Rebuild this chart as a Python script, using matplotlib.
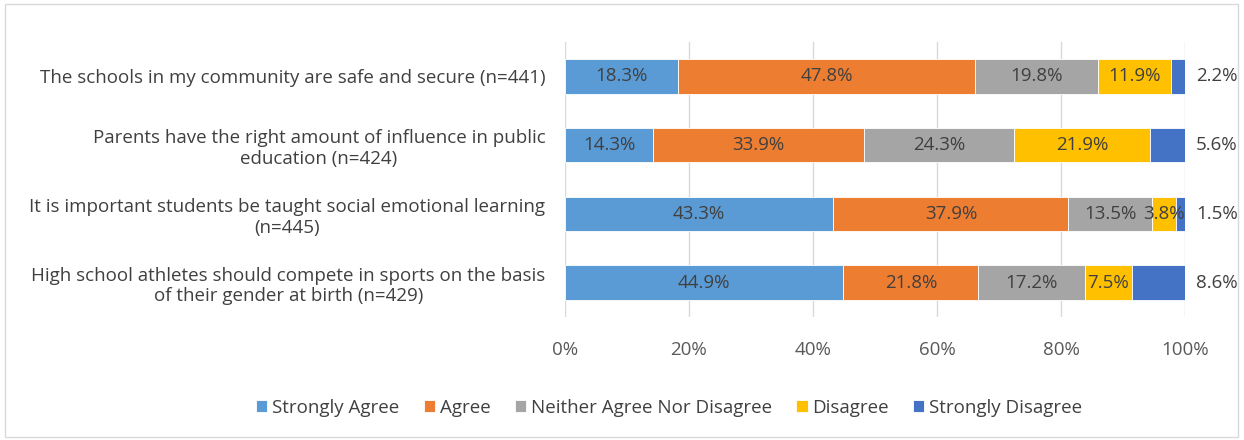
import numpy as np
import matplotlib.pyplot as plt
from matplotlib.patches import Rectangle

plt.rcParams['font.family'] = ['Open Sans', 'DejaVu Sans']

questions = [
    "The schools in my community are safe and secure (n=441)",
    "Parents have the right amount of influence in public\neducation (n=424)",
    "It is important students be taught social emotional learning\n(n=445)",
    "High school athletes should compete in sports on the basis\nof their gender at birth (n=429)",
]
series = ["Strongly Agree", "Agree", "Neither Agree Nor Disagree", "Disagree", "Strongly Disagree"]
strongly_agree = [18.3, 14.3, 43.3, 44.9]
agree = [47.8, 33.9, 37.9, 21.8]
neither = [19.8, 24.3, 13.5, 17.2]
disagree = [11.9, 21.9, 3.8, 7.5]
strongly_disagree = [2.2, 5.6, 1.5, 8.6]

colors = ["#5B9BD5", "#ED7D31", "#A5A5A5", "#FFC000", "#4472C4"]
text_col = "#404040"
fs = 13.5

fig = plt.figure(figsize=(12.44, 4.4), dpi=100)
ax = fig.add_axes([0.454, 0.2795, 0.4986, 0.625])

y = np.arange(len(questions))
left = np.zeros(len(questions))
all_vals = [strongly_agree, agree, neither, disagree, strongly_disagree]
for i, (name, vals) in enumerate(zip(series, all_vals)):
    vals = np.array(vals)
    bars = ax.barh(y, vals, left=left, height=0.5, color=colors[i], label=name,
                   edgecolor="white", linewidth=0.6, zorder=3)
    for b, v in zip(bars, vals):
        if i < 4:
            ax.text(b.get_x() + b.get_width() / 2, b.get_y() + b.get_height() / 2,
                    f"{v:.1f}%", ha="center", va="center", fontsize=fs, color=text_col, zorder=4)
        else:
            ax.annotate(f"{v:.1f}%", (b.get_x() + b.get_width(), b.get_y() + b.get_height() / 2),
                        xytext=(8, 0), textcoords="offset points", ha="left", va="center",
                        fontsize=fs, color=text_col)
    left += vals

ax.set_xlim(0, 100)
ax.set_ylim(3.5, -0.5)
ax.set_xticks(np.arange(0, 101, 20))
ax.set_xticklabels([f"{t}%" for t in range(0, 101, 20)], fontsize=fs, color="#595959")
ax.set_yticks(y)
ax.set_yticklabels(questions, fontsize=fs, color=text_col)
for lbl in ax.get_yticklabels():
    lbl.set_multialignment("center")
ax.tick_params(axis="both", length=0)
ax.tick_params(axis="x", pad=17)
ax.tick_params(axis="y", pad=14)
ax.grid(axis="x", color="#D9D9D9", linewidth=1, zorder=0)
for s in ax.spines.values():
    s.set_visible(False)

fig.legend(loc="center", bbox_to_anchor=(0.538, 0.073), ncol=5, frameon=False,
           fontsize=fs, handlelength=0.6, handleheight=0.6, handletextpad=0.25,
           columnspacing=1.3, labelcolor=text_col)

fig.patches.append(Rectangle((0.004, 0.007), 0.991, 0.983, transform=fig.transFigure,
                             fill=False, edgecolor="#D9D9D9", linewidth=1))

fig.savefig("out.png", dpi=100)
